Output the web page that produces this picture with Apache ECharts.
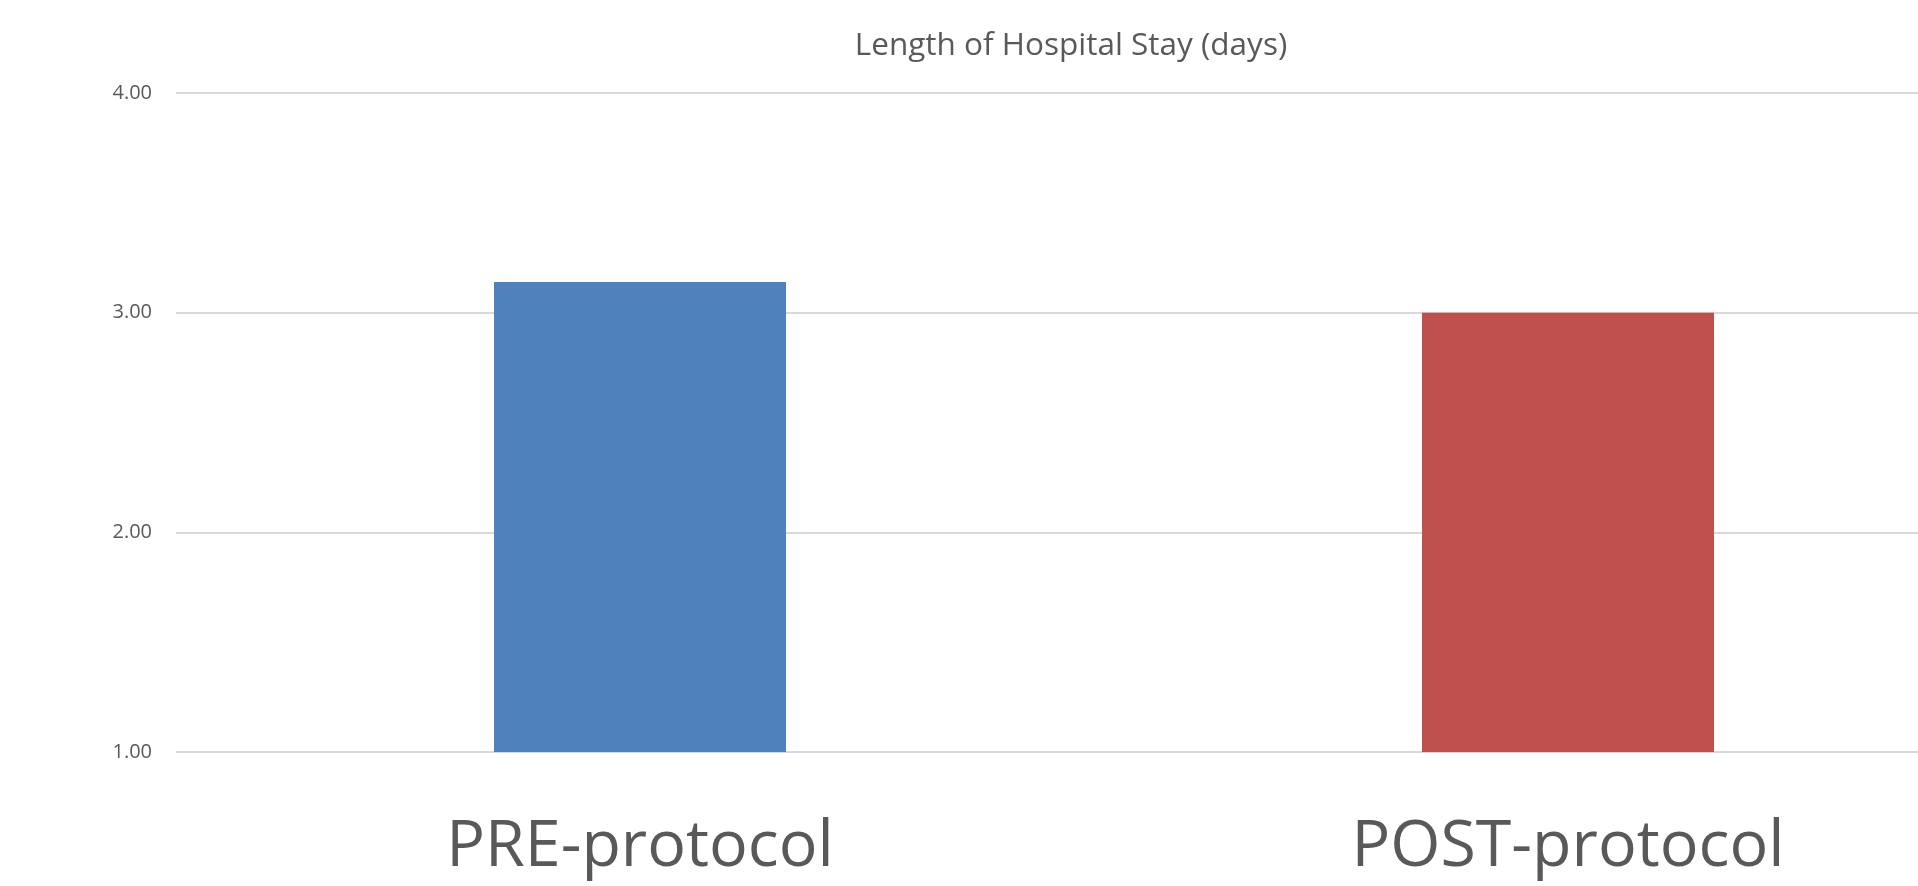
<!DOCTYPE html>
<html>
<head>
<meta charset="utf-8">
<title>Length of Hospital Stay</title>
<script src="https://cdn.jsdelivr.net/npm/echarts@6/dist/echarts.min.js"></script>
<style>
  html, body { margin: 0; padding: 0; background: #ffffff; }
  #chart { width: 1918px; height: 886px; }
</style>
</head>
<body>
<div id="chart"></div>
<script>
// Mean length of stay before and after the protocol was introduced
const categories = ['PRE-protocol', 'POST-protocol'];
const stayDays = [3.14, 3.00];
const barColors = ['#4F81BD', '#C0504D'];
const chartTitle = 'Length of Hospital Stay (days)';

const yMin = 1;
const yMax = 4;
const yStep = 1;

const chart = echarts.init(document.getElementById('chart'), null, { renderer: 'canvas' });

chart.setOption({
  backgroundColor: '#ffffff',
  animation: false,
  title: {
    text: chartTitle,
    left: 1066,
    top: 25,
    textAlign: 'center',
    textStyle: {
      fontFamily: 'Open Sans',
      fontSize: 31.5,
      fontWeight: 'normal',
      color: '#595959',
      lineHeight: 32
    }
  },
  // the plot area runs on past the right edge of the page
  grid: {
    left: 176,
    top: 93,
    bottom: 134,
    right: -114,
    outerBoundsMode: 'none',
    containLabel: false
  },
  xAxis: {
    type: 'category',
    data: categories,
    axisLine: { show: false },
    axisTick: { show: false },
    axisLabel: {
      margin: 64,
      fontFamily: 'Open Sans',
      fontSize: 64.5,
      lineHeight: 64,
      color: '#595959'
    }
  },
  yAxis: {
    type: 'value',
    min: yMin,
    max: yMax,
    interval: yStep,
    axisLine: { show: false },
    axisTick: { show: false },
    axisLabel: {
      margin: 24,
      fontFamily: 'Open Sans',
      fontSize: 20,
      color: '#595959',
      formatter: v => v.toFixed(2)
    },
    splitLine: { lineStyle: { color: '#D9D9D9', width: 2 } }
  },
  series: [{
    type: 'bar',
    barWidth: 292,
    data: stayDays.map((v, i) => ({ value: v, itemStyle: { color: barColors[i] } }))
  }]
});
</script>
</body>
</html>
